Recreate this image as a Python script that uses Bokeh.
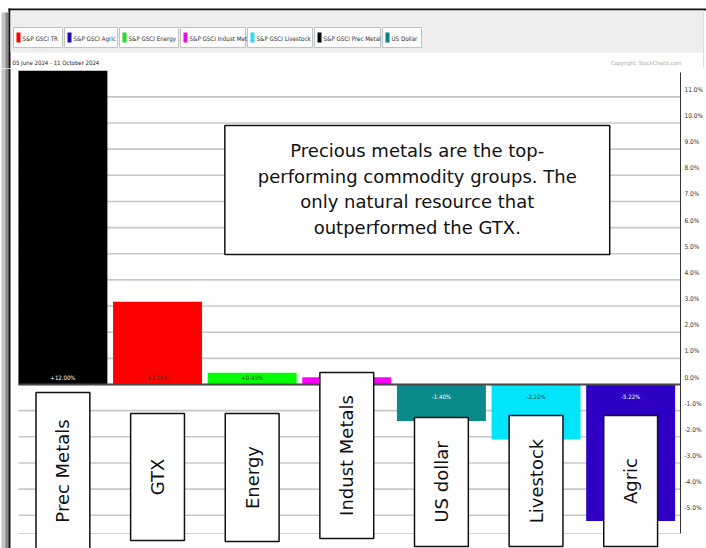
import math
from bokeh.plotting import figure
from bokeh.models import Range1d, FixedTicker, CustomJSTickFormatter
from bokeh.embed import file_html
from bokeh.resources import INLINE
from bokeh.core.properties import value

# ---------------- data ----------------
categories = ["Prec Metals", "GTX", "Energy", "Indust Metals", "US dollar", "Livestock", "Agric"]
changes = [12.00, 3.16, 0.45, 0.28, -1.40, -2.10, -5.22]
bar_colors = ["#000000", "#ff0000", "#00ff00", "#ff00ff", "#0b8a8c", "#00e5fa", "#2e00c4"]
value_label_colors = ["#ffffff", "#333333", "#333333", "#333333", "#ffffff", "#333333", "#ffffff"]
y_ticks = list(range(-5, 12))
legend_names = ["S&P GSCI TR", "S&P GSCI Agric", "S&P GSCI Energy", "S&P GSCI Indust Met",
                "S&P GSCI Livestock", "S&P GSCI Prec Metal", "US Dollar"]
legend_colors = ["#ff0000", "#1a10a8", "#22dd22", "#e010e0", "#30d8f0", "#000000", "#0b8080"]
date_text = "05 June 2024 - 11 October 2024"
copyright_text = "Copyright, StockCharts.com"
note_lines = ["Precious metals are the top-", "performing commodity groups. The",
              "only natural resource that", "outperformed the GTX."]

# ---------------- layout constants ----------------
W, H = 706, 548
HEAD_H = 68
NARROW = "DejaVu Sans Condensed"
SANS = "DejaVu Sans"
ZERO_PY = 384.0
PX_PER_PCT = 26.15
BAR_PITCH = 94.9
BAR_LEFT0 = 18.0
FRAME_W = 684

def X(px):
    return (px - BAR_LEFT0) / BAR_PITCH

def Y(py):
    return (ZERO_PY - py) / PX_PER_PCT

# ---------------- header figure ----------------
hd = figure(width=W, height=HEAD_H, x_range=Range1d(0, W), y_range=Range1d(HEAD_H, 0),
            output_backend="svg", toolbar_location=None, x_axis_location=None,
            y_axis_location=None, min_border=0)
hd.grid.visible = False
hd.outline_line_color = None
hd.background_fill_color = "white"
hd.border_fill_color = "white"

hd.quad(left=[1], right=[8], top=[12], bottom=[HEAD_H], fill_color="#c4c4c4", line_color=None)
hd.quad(left=[5], right=[8], top=[12], bottom=[HEAD_H], fill_color="#8a8a8a", line_color=None)
hd.quad(left=[8], right=[W], top=[8], bottom=[10], fill_color="#111111", line_color=None)
hd.quad(left=[8], right=[10], top=[8], bottom=[HEAD_H], fill_color="#111111", line_color=None)
hd.quad(left=[10], right=[703], top=[10], bottom=[52], fill_color="#eeeeee", line_color=None)
hd.segment(x0=[703], y0=[10], x1=[703], y1=[HEAD_H], line_color="#dddddd", line_width=1)

btn_edges = [(13, 62), (64, 117), (119, 178), (180, 245), (247, 312), (314, 380), (382, 421)]
for (l, r), name, col in zip(btn_edges, legend_names, legend_colors):
    hd.quad(left=[l], right=[r], top=[27], bottom=[47], fill_color="#fbfbfb",
            line_color="#c2c2c2", line_width=1)
    hd.quad(left=[l + 3], right=[l + 7], top=[32], bottom=[42], fill_color=col, line_color=None)
    hd.text(x=[l + 9], y=[37.5], text=[name], text_font=value(NARROW), text_font_size="6.2px",
            text_color="#333333", text_baseline="middle", text_align="left")

hd.text(x=[12], y=[62], text=[date_text], text_font=value(NARROW), text_font_size="6px",
        text_color="#222222", text_baseline="middle", text_align="left")
hd.text(x=[681], y=[62], text=[copyright_text], text_font=value(NARROW), text_font_size="5.6px",
        text_color="#aaaaaa", text_baseline="middle", text_align="right")

# ---------------- main figure ----------------
p = figure(width=W, height=H - HEAD_H,
           x_range=Range1d(X(0), X(FRAME_W)),
           y_range=Range1d(Y(H), Y(HEAD_H)),
           output_backend="svg", toolbar_location=None,
           x_axis_location=None, y_axis_location="right",
           min_border_left=0, min_border_top=0, min_border_bottom=0,
           min_border_right=W - FRAME_W)
p.grid.visible = False
p.outline_line_color = None
p.background_fill_color = "white"
p.border_fill_color = "white"

LABEL_SHIFT = 7 / PX_PER_PCT
ax = p.yaxis[0]
ax.ticker = FixedTicker(ticks=[t + LABEL_SHIFT for t in y_ticks])
ax.formatter = CustomJSTickFormatter(
    args=dict(shift=LABEL_SHIFT),
    code="return Math.round(tick - shift).toFixed(1) + '%';")
ax.axis_line_color = None
ax.major_tick_line_color = None
ax.minor_tick_line_color = None
ax.major_tick_out = 0
ax.major_tick_in = 0
ax.minor_tick_out = 0
ax.minor_tick_in = 0
ax.major_label_standoff = 2
ax.major_label_text_font = NARROW
ax.major_label_text_font_size = "6.5px"
ax.major_label_text_color = "#333333"

p.quad(left=[X(1)], right=[X(8)], top=[Y(HEAD_H)], bottom=[Y(H)], fill_color="#c4c4c4", line_color=None)
p.quad(left=[X(5)], right=[X(8)], top=[Y(HEAD_H)], bottom=[Y(H)], fill_color="#8a8a8a", line_color=None)
p.quad(left=[X(8)], right=[X(10)], top=[Y(HEAD_H)], bottom=[Y(H)], fill_color="#111111", line_color=None)

g_right = X(682)
p.segment(x0=[0] * len(y_ticks), y0=y_ticks, x1=[g_right] * len(y_ticks), y1=y_ticks,
          line_color="#c8c8c8", line_width=1.6)
bottom_val = Y(533)
p.segment(x0=[0], y0=[bottom_val], x1=[g_right], y1=[bottom_val], line_color="#d4d4d4", line_width=1.2)

xs = [i + 0.47 for i in range(len(categories))]
p.vbar(x=xs, top=changes, bottom=0, width=0.94, fill_color=bar_colors, line_color=None)

p.segment(x0=[0], y0=[0], x1=[g_right], y1=[0], line_color="#4a4a4a", line_width=2)
p.segment(x0=[g_right], y0=[bottom_val], x1=[g_right], y1=[Y(72)], line_color="#333333", line_width=1)

for xc, v, c in zip(xs, changes, value_label_colors):
    txt = ("+" if v > 0 else "") + f"{v:.2f}%"
    if v >= 0:
        p.text(x=[xc], y=[0], text=[txt], text_font=value(NARROW), text_font_size="6px",
               text_color=c, text_align="center", text_baseline="bottom", y_offset=-4)
    else:
        p.text(x=[xc], y=[0], text=[txt], text_font=value(NARROW), text_font_size="6px",
               text_color=c, text_align="center", text_baseline="top", y_offset=8)

box_top_px = [392, 413, 413, 372, 417, 415, 415]
box_bot_px = [549, 540, 541, 538, 546, 546, 546]
half_w = 27 / BAR_PITCH
for xc, name, t, b in zip(xs, categories, box_top_px, box_bot_px):
    p.quad(left=[xc - half_w], right=[xc + half_w], top=[Y(t)], bottom=[Y(b)],
           fill_color="white", line_color="#111111", line_width=1.5)
    p.text(x=[xc], y=[Y((t + b) / 2)], text=[name], angle=math.pi / 2,
           text_font=value(SANS), text_font_size="18px", text_color="#111111",
           text_align="center", text_baseline="middle")

p.quad(left=[X(225)], right=[X(611)], top=[Y(125)], bottom=[Y(254)],
       fill_color="white", line_color="#111111", line_width=1.5)
for k, line in enumerate(note_lines):
    p.text(x=[X(418)], y=[Y(150 + k * 25.7)], text=[line], text_font=value(SANS),
           text_font_size="18px", text_color="#111111", text_align="center", text_baseline="middle")

open("out.html", "w").write(file_html([hd, p], INLINE))
